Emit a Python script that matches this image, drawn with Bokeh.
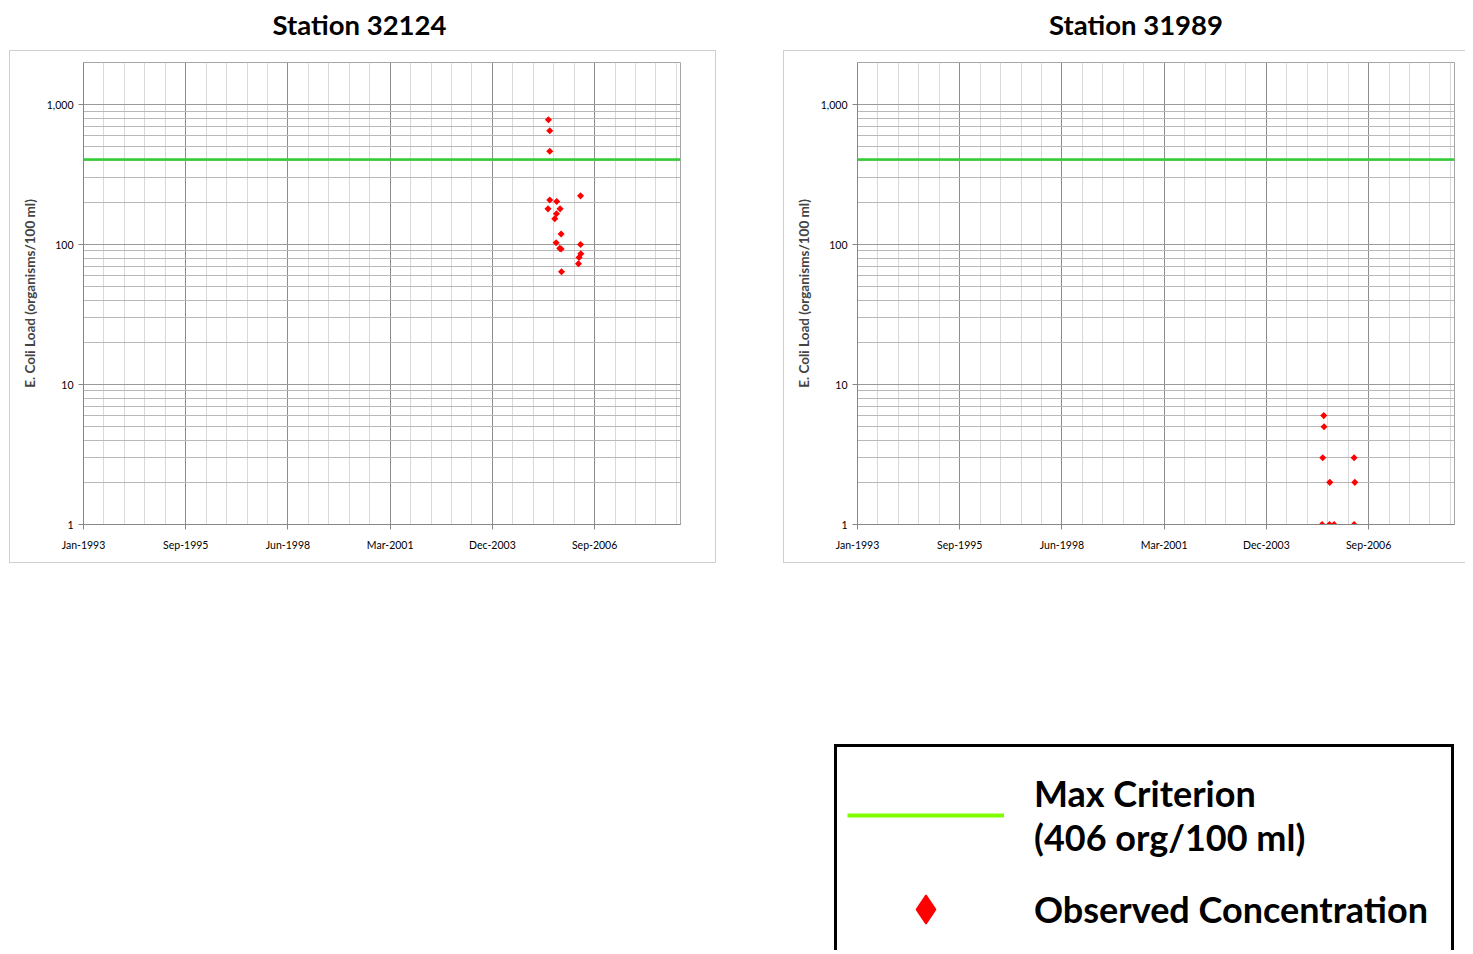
from math import pi
import pandas as pd
from bokeh.plotting import figure
from bokeh.models import (Range1d, FixedTicker, DatetimeTickFormatter, NumeralTickFormatter,
                          Span, Div, Spacer, Legend, LegendItem)
from bokeh.layouts import column, row
from bokeh.embed import file_html
from bokeh.resources import INLINE

# ---------------- data ----------------
station_names = ["Station 32124", "Station 31989"]

s32124_dates = ["2005-06-11", "2005-06-15", "2005-06-28", "2005-06-28", "2005-06-28",
                "2005-08-16", "2005-08-29", "2005-09-02", "2005-09-04", "2005-10-04",
                "2005-10-07", "2005-10-17", "2005-10-17", "2005-10-21", "2006-04-05",
                "2006-04-11", "2006-04-25", "2006-04-25", "2006-04-28"]
s32124_ecoli = [180, 780, 650, 465, 208,
                153, 103, 166, 203, 94,
                180, 119, 93, 64, 73,
                81, 223, 100, 86]

s31989_dates = ["2005-06-12", "2005-06-18", "2005-06-28", "2005-07-01", "2005-08-23",
                "2005-08-26", "2005-10-07", "2006-04-21", "2006-04-21", "2006-04-28"]
s31989_ecoli = [1, 3, 6, 5, 1,
                2, 1, 3, 1, 2]

criterion_value = 406
criterion_label = "Max Criterion\n(406 org/100 ml)"
observed_label = "Observed Concentration"
y_axis_label = "E. Coli Load (organisms/100 ml)"

x_start = "1993-01-01"
x_end = "2008-12-28"
x_major_step_days = 1000
x_minor_step_days = 200
y_major_ticks = [1, 10, 100, 1000]
y_max = 2000

# ---------------- helpers ----------------
FONT = "Lato"
t0 = pd.Timestamp(x_start)
t1 = pd.Timestamp(x_end)
span_days = (t1 - t0).days


def to_ms(ts):
    return ts.value / 1e6


x_major = [to_ms(t0 + pd.Timedelta(days=d)) for d in range(0, span_days + 1, x_major_step_days)]
x_minor = [to_ms(t0 + pd.Timedelta(days=d)) for d in range(0, span_days + 1, x_minor_step_days)]
y_minor = [m * 10 ** k for k in range(0, 4) for m in range(2, 10) if m * 10 ** k <= y_max]

fmt = "%b-%Y"
dt_fmt = DatetimeTickFormatter(microseconds=fmt, milliseconds=fmt, seconds=fmt, minsec=fmt,
                               minutes=fmt, hourmin=fmt, hours=fmt, days=fmt, months=fmt, years=fmt)


def make_chart(dates, values, width, right_border, shadow):
    p = figure(width=width, height=513, x_axis_type="datetime", y_axis_type="log",
               x_range=Range1d(t0, t1), y_range=Range1d(1, y_max),
               output_backend="svg", toolbar_location=None,
               min_border_left=74, min_border_right=right_border,
               min_border_top=12, min_border_bottom=39,
               border_fill_color=None, background_fill_color="white",
               outline_line_color="#a6a6a6", styles={"box-shadow": shadow})
    p.xaxis.ticker = FixedTicker(ticks=x_major, minor_ticks=x_minor)
    p.xaxis.formatter = dt_fmt
    p.yaxis.ticker = FixedTicker(ticks=y_major_ticks, minor_ticks=y_minor)
    p.yaxis.formatter = NumeralTickFormatter(format="0,0")

    p.xgrid.grid_line_color = "#8c8c8c"
    p.xgrid.minor_grid_line_color = "#d9d9d9"
    p.ygrid.grid_line_color = "#9a9a9a"
    p.ygrid.minor_grid_line_color = "#b8b8b8"

    for ax in (p.xaxis[0], p.yaxis[0]):
        ax.axis_line_color = "#868686"
        ax.major_tick_line_color = "#868686"
        ax.major_tick_out = 5
        ax.major_tick_in = 0
        ax.minor_tick_line_color = None
        ax.major_label_text_font = FONT
        ax.major_label_text_font_size = "10.5px"
        ax.major_label_text_color = "black"
    p.xaxis.major_label_standoff = 9
    p.yaxis.major_label_standoff = 5
    p.yaxis.axis_label = y_axis_label
    p.yaxis.axis_label_text_font = FONT
    p.yaxis.axis_label_text_font_size = "13.5px"
    p.yaxis.axis_label_text_font_style = "bold"
    p.yaxis.axis_label_standoff = 6

    p.add_layout(Span(location=criterion_value, dimension="width",
                      line_color="#32CD32", line_width=2.5))
    p.scatter(x=pd.to_datetime(dates), y=values, marker="square", angle=pi / 4,
              size=5, fill_color="#FF0000", line_color=None)
    return p


box_gray = "#cfcfcf"
p1 = make_chart(s32124_dates, s32124_ecoli, 707, 36,
                f"inset 1px 0 0 {box_gray}, inset -1px 0 0 {box_gray}, inset 0 1px 0 {box_gray}, inset 0 -1px 0 {box_gray}")
p2 = make_chart(s31989_dates, s31989_ecoli, 682, 11,
                f"inset 1px 0 0 {box_gray}, inset 0 1px 0 {box_gray}, inset 0 -1px 0 {box_gray}")

title_style = {"font-family": FONT, "font-weight": "bold", "font-size": "27.5px",
               "text-align": "center", "line-height": "40px", "color": "black"}
d1 = Div(text=station_names[0], width=707, height=40, styles=title_style)
d2 = Div(text=station_names[1], width=670, height=40, styles=title_style)

# ---------------- legend ----------------
lg = figure(width=620, height=206, x_range=Range1d(0, 1), y_range=Range1d(0, 1),
            output_backend="svg", toolbar_location=None,
            x_axis_location=None, y_axis_location=None, min_border=0,
            border_fill_color=None, background_fill_color=None, outline_line_color=None,
            styles={"box-shadow": "inset 3px 0 0 #000, inset -3px 0 0 #000, inset 0 3px 0 #000"})
lg.grid.visible = False
# sample renderers (their data lie outside this legend panel's ranges; only their swatches show)
r_line = lg.line(x=[to_ms(t0), to_ms(t1)], y=[criterion_value, criterion_value],
                 line_color="#7FFF00", line_width=4)
r_pt = lg.scatter(x=[to_ms(pd.Timestamp(s32124_dates[0]))], y=[s32124_ecoli[0]],
                  marker="diamond", fill_color="#FF0000", line_color="#FF0000", line_width=1.5)
legend = Legend(items=[LegendItem(label=criterion_label, renderers=[r_line]),
                       LegendItem(label=observed_label, renderers=[r_pt])],
                location=(13, 5), glyph_width=157, glyph_height=72, label_standoff=30,
                padding=14, spacing=14, margin=0, border_line_color=None,
                background_fill_alpha=0, label_text_font=FONT, label_text_font_size="36px",
                label_text_font_style="bold", label_text_line_height=1.3,
                label_text_color="black")
lg.add_layout(legend)

layout = column(
    row(Spacer(width=1, height=40), d1, Spacer(width=78, height=40), d2),
    row(Spacer(width=9, height=513), p1, Spacer(width=67, height=513), p2),
    Spacer(width=10, height=181),
    row(Spacer(width=834, height=206), lg),
)

open("out.html", "w").write(file_html(layout, INLINE))
